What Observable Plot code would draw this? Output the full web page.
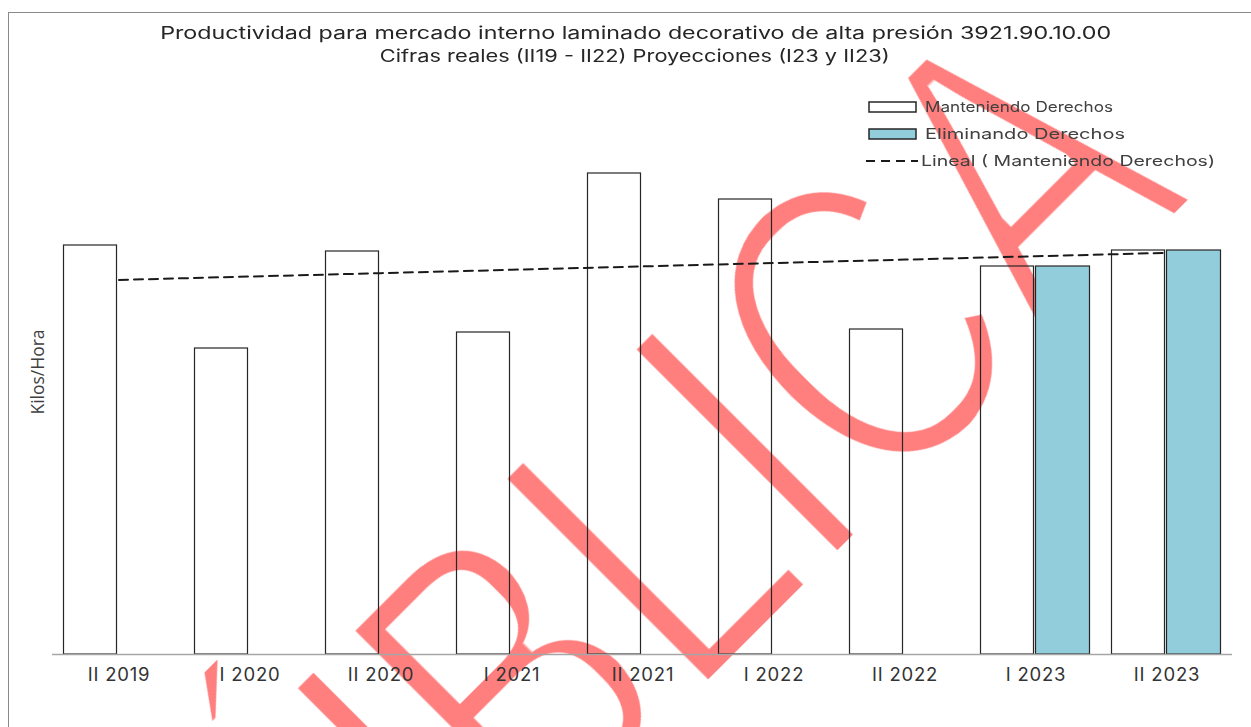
<!DOCTYPE html>
<html>
<head>
<meta charset="utf-8">
<script src="https://cdn.jsdelivr.net/npm/d3@7"></script>
<script src="https://cdn.jsdelivr.net/npm/@observablehq/plot@0.6"></script>
<style>
  html, body { margin: 0; padding: 0; background: #fff; }
  #wrap { position: relative; width: 1251px; height: 727px; overflow: hidden; background: #fff; }
  .abs { position: absolute; white-space: nowrap; }
  .title { font-family: Inter, sans-serif; font-size: 17px; color: #262626; line-height: 20px; }
  .legend-text { font-family: Inter, sans-serif; font-size: 14.5px; color: #404040; line-height: 18px; }
  .ylab { font-family: "Open Sans", sans-serif; font-size: 17.5px; color: #404040; }
</style>
</head>
<body>
<div id="wrap"></div>
<script>
// ---------------- data ----------------
const periods = ["II 2019", "I 2020", "II 2020", "I 2021", "II 2021", "I 2022", "II 2022", "I 2023", "II 2023"];
const manteniendo = [409, 306, 403, 322, 481, 455, 325, 388, 404];
const eliminando = [null, null, null, null, null, null, null, 388, 404];
const seriesNames = ["Manteniendo Derechos", "Eliminando Derechos", "Lineal ( Manteniendo Derechos)"];
const titleText = "Productividad para mercado interno laminado decorativo de alta presión 3921.90.10.00";
const subtitleText = "Cifras reales (II19 - II22) Proyecciones (I23 y II23)";
const yLabelText = "Kilos/Hora";
const watermarkText = "PÚBLICA";

// ---------------- derived tables ----------------
const mantRows = periods.map((p, i) => ({period: p, value: manteniendo[i]}));
const elimRows = periods.map((p, i) => ({period: p, value: eliminando[i]})).filter(d => d.value != null);
// Linear trendline (least squares) of the "Manteniendo" series, as in the source chart
const n = manteniendo.length;
const mx = d3.mean(d3.range(n)), my = d3.mean(manteniendo);
const slope = d3.sum(d3.range(n), i => (i - mx) * (manteniendo[i] - my)) / d3.sum(d3.range(n), i => (i - mx) ** 2);
const trendRows = periods.map((p, i) => ({period: p, trend: my + slope * (i - mx)}));

const W = 1251, H = 727;
const wrap = d3.select("#wrap");

// frame lines
wrap.append("div").attr("class", "abs")
  .style("left", "8px").style("top", "12px").style("width", (W) + "px").style("height", (H) + "px")
  .style("border-top", "1.5px solid #8a8a8a").style("border-left", "1.5px solid #8a8a8a");

// watermark (behind the chart)
const wm = wrap.append("svg").attr("class", "abs").attr("width", W).attr("height", H)
  .style("left", "0px").style("top", "0px");
const flt = wm.append("defs").append("filter").attr("id", "thin")
  .attr("x", "-10%").attr("y", "-10%").attr("width", "120%").attr("height", "120%");
flt.append("feMorphology").attr("operator", "erode").attr("radius", "6");
wm.append("g").attr("opacity", 0.5)
  .append("text")
  .attr("transform", "translate(222,1174) rotate(-45) scale(0.75,1)")
  .attr("font-family", "Liberation Sans, Arial, sans-serif")
  .attr("font-size", 430)
  .attr("fill", "#ff0000")
  .attr("filter", "url(#thin)")
  .text(watermarkText);

// chart
const chart = Plot.plot({
  width: W,
  height: H,
  marginTop: 80,
  marginBottom: 73,
  marginLeft: 52,
  marginRight: 19,
  style: {background: "transparent", fontFamily: "Inter, sans-serif", fontSize: "18.5px", color: "#333", letterSpacing: "0.8px", overflow: "visible"},
  x: {domain: periods, padding: 0, tickSize: 0, tickPadding: 13, label: null},
  y: {domain: [0, 574], axis: null},
  marks: [
    Plot.barY(mantRows, {x: "period", y: "value", fill: "none", stroke: "#262626", strokeWidth: 1.2, insetLeft: 10.5, insetRight: 67.5}),
    Plot.line(trendRows, {x: "period", y: "trend", stroke: "#1a1a1a", strokeWidth: 2, strokeDasharray: "9,6"}),
    Plot.barY(elimRows, {x: "period", y: "value", fill: "#92CDDC", stroke: "#262626", strokeWidth: 1.2, insetLeft: 65.5, insetRight: 11.5}),
    Plot.ruleY([0], {stroke: "#a6a6a6", strokeWidth: 1.5})
  ]
});
const chartDiv = wrap.append("div").attr("class", "abs").style("left", "0px").style("top", "0px");
chartDiv.node().appendChild(chart);

// titles
function addFitText(cls, text, cx, cy, targetW) {
  const el = wrap.append("div").attr("class", "abs " + cls).text(text);
  const r = el.node().getBoundingClientRect();
  const s = targetW ? targetW / r.width : 1;
  el.style("left", (cx - r.width / 2) + "px").style("top", (cy - r.height / 2) + "px")
    .style("transform-origin", "50% 50%")
    .style("transform", `scaleX(${s})`);
  return el;
}
addFitText("title", titleText, 636, 33, 951);
addFitText("title", subtitleText, 635, 56, 510);

// legend
const legendX = 869, legendRows = [107, 134, 161];
const legendSvg = wrap.append("svg").attr("class", "abs").attr("width", 60).attr("height", 80)
  .style("left", (legendX - 4) + "px").style("top", (legendRows[0] - 12) + "px");
legendSvg.append("rect").attr("x", 4).attr("y", 7).attr("width", 47).attr("height", 10)
  .attr("fill", "none").attr("stroke", "#262626").attr("stroke-width", 1.5);
legendSvg.append("rect").attr("x", 4).attr("y", 34).attr("width", 47).attr("height", 10)
  .attr("fill", "#92CDDC").attr("stroke", "#262626").attr("stroke-width", 1.5);
legendSvg.append("line").attr("x1", 1).attr("x2", 53).attr("y1", 66).attr("y2", 66)
  .attr("stroke", "#1a1a1a").attr("stroke-width", 2).attr("stroke-dasharray", "9,6");
const legendTextX = [925, 925, 921];
const legendTextW = [188, 200, 294];
seriesNames.forEach((name, i) => {
  const el = wrap.append("div").attr("class", "abs legend-text").text(name);
  const r = el.node().getBoundingClientRect();
  const s = legendTextW[i] / r.width;
  el.style("left", legendTextX[i] + "px").style("top", (legendRows[i] - r.height / 2) + "px")
    .style("transform-origin", "0 50%").style("transform", `scaleX(${s})`);
});

// y label
const yl = wrap.append("div").attr("class", "abs ylab").text(yLabelText);
const yr = yl.node().getBoundingClientRect();
yl.style("left", (37 - yr.width / 2) + "px").style("top", (372 - yr.height / 2) + "px")
  .style("transform", "rotate(-90deg)").style("transform-origin", "50% 50%");
</script>
</body>
</html>
